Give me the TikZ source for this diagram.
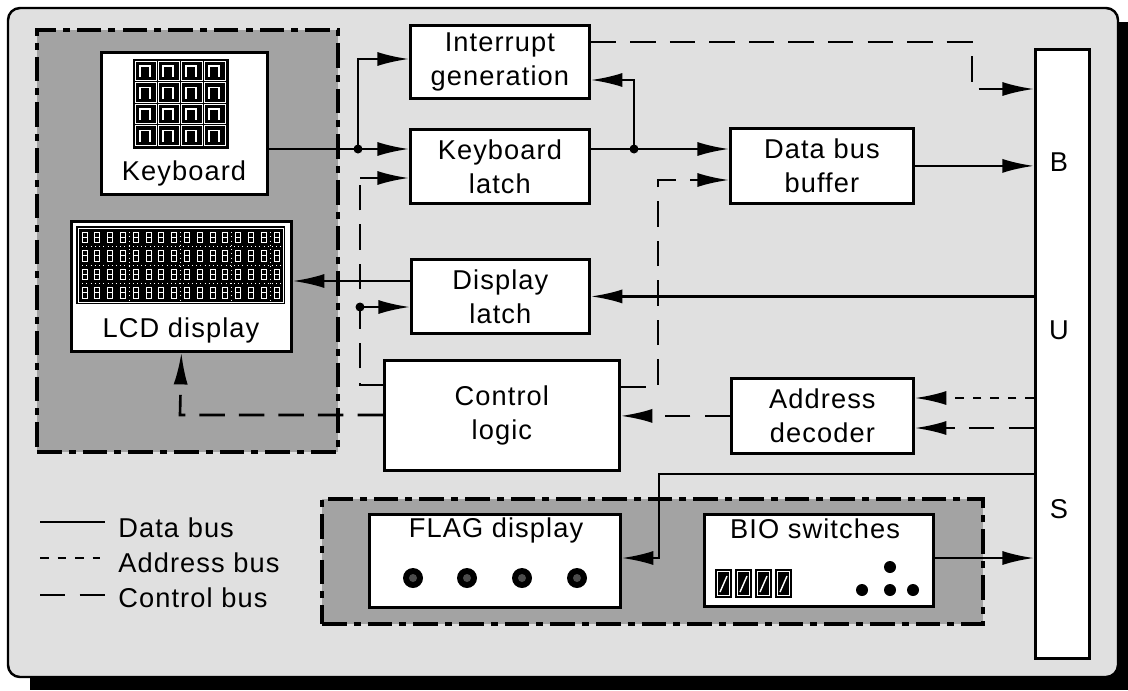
\documentclass[tikz,border=0pt]{standalone}
\usepackage{fontspec}
\setmainfont{Liberation Sans}[LetterSpace=4]
\usetikzlibrary{arrows.meta,calc}
\definecolor{bgfill}{gray}{0.88}
\definecolor{grpfill}{gray}{0.64}
\begin{document}
\begin{tikzpicture}[x=0.02cm,y=-0.02cm,
  lbl/.style={font=\fontsize{15.5}{19.5}\selectfont, align=center, inner sep=0pt},
  blk/.style={draw, line width=1.6pt, fill=white, inner sep=0pt, anchor=north west, lbl},
  grp/.style={draw, line width=2.2pt, fill=grpfill, anchor=north west, inner sep=0pt,
              dash pattern=on 14pt off 4pt on 4pt off 4pt},
  data/.style={line width=1.5pt},
  addr/.style={line width=1.5pt, dash pattern=on 5pt off 5pt},
  ctrl/.style={line width=1.5pt, dash pattern=on 14.5pt off 8pt},
  arr/.style={-{Latex[length=18pt,width=8pt]}},
  jdot/.style={fill=black},
]
\useasboundingbox (0,0) rectangle (1128,690);
% frame with shadow
\fill[black] (30,22) rectangle (1128,690);
\draw[line width=1.4pt, fill=bgfill, rounded corners=0.24cm] (8,8) rectangle (1118,677);

% groups
\node[grp, minimum width=6.02cm, minimum height=8.44cm] (g1) at (35,28) {};
\node[grp, minimum width=13.22cm, minimum height=2.5cm] (g2) at (320,497) {};

% blocks
\node[blk, minimum width=3.32cm, minimum height=2.84cm] (kbd) at (100,51) {};
\node[blk, minimum width=4.40cm, minimum height=2.60cm] (lcd) at (70,220) {};
\node[blk, minimum width=3.58cm, minimum height=1.46cm] (intr) at (409,24) {Interrupt\\generation};
\node[blk, minimum width=3.58cm, minimum height=1.48cm] (kbl) at (409,128) {Keyboard\\latch};
\node[blk, minimum width=3.56cm, minimum height=1.48cm] (dpl) at (410,258) {Display\\latch};
\node[blk, minimum width=3.66cm, minimum height=1.50cm] (dbb) at (729,127) {Data bus\\buffer};
\node[blk, minimum width=3.64cm, minimum height=1.50cm] (adr) at (730,377) {Address\\decoder};
\node[blk, minimum width=4.70cm, minimum height=2.20cm] (ctl) at (383,359) {Control\\logic};
\node[blk, minimum width=1.08cm, minimum height=12.18cm] (bus) at (1034,48) {};
\node[blk, minimum width=5.02cm, minimum height=1.86cm] (flag) at (368,513) {};
\node[blk, minimum width=4.58cm, minimum height=1.84cm] (bio) at (703,513) {};

% labels
\node[lbl] (bB) at (1059,162) {B};
\node[lbl] (bU) at (1059,330) {U};
\node[lbl] (bS) at (1059,509) {S};
\node[lbl, anchor=base] (kbdt) at (184,180) {Keyboard};
\node[lbl, anchor=base] (lcdt) at (181,337) {LCD display};
\node[lbl, anchor=base] (flagt) at (496,537) {FLAG display};
\node[lbl, anchor=base] (biot) at (815,538) {BIO switches};

% keypad icon
\fill[black] (133,59) rectangle (229,149);
\foreach \i in {0,...,3} \foreach \j in {0,...,3} {
  \draw[white, line width=0.5pt] (135+\i*23,61+\j*21.5) rectangle ++(21,19.5);
  \draw[white, line width=1pt] (140+\i*23,77+\j*21.5) -- (140+\i*23,66+\j*21.5) -- (150+\i*23,66+\j*21.5) -- (150+\i*23,77+\j*21.5);
}
% LCD icon
\fill[black] (76,226) rectangle (285,304);
\draw[white, line width=0.5pt] (78,228) rectangle (283,302);
\foreach \r in {1,2,3} \draw[white, line width=0.4pt, dotted] (78,228+\r*18.5) -- (283,228+\r*18.5);
\foreach \c in {4,8,12,15} \draw[white, line width=0.4pt, dotted] (78+\c*12.8,228) -- (78+\c*12.8,302);
\foreach \r in {0,...,3} \foreach \c in {0,...,15} {
  \draw[white, line width=0.5pt] (82+\c*12.8,232+\r*18.5) rectangle ++(5,10.5);
  \draw[white, line width=0.5pt] (82+\c*12.8,237.25+\r*18.5) -- ++(5,0);
}
% flag dots
\foreach \x in {413,467,522,577} {
  \fill (\x,578) circle[radius=0.2cm];
  \fill[black!70] (\x,578) circle[radius=0.08cm];
}
% BIO switches icon
\foreach \k in {0,...,3} {
  \fill (715+\k*20,569) rectangle ++(17,29);
  \draw[white, line width=0.5pt] (717.5+\k*20,571.5) rectangle ++(12,24);
  \draw[white, line width=0.8pt] (720+\k*20,592) -- (727+\k*20,576);
}
\fill (890,567) circle[radius=0.12cm];
\fill (862,590) circle[radius=0.12cm];
\fill (890,590) circle[radius=0.12cm];
\fill (913,590) circle[radius=0.12cm];

% coordinates
\coordinate (j1) at (358,149);
\coordinate (j1t) at (358,59);
\coordinate (j2) at (634,149);
\coordinate (j2t) at (634,80);
\coordinate (c1) at (972,42);
\coordinate (c2) at (972,89);
\coordinate (cl1) at (360,385);
\coordinate (cl2) at (360,178);
\coordinate (cl3) at (360,307);
\coordinate (cr1) at (658,387);
\coordinate (cr2) at (658,180);
\coordinate (dl) at (350,281);
\coordinate (lc1) at (180,415);
\coordinate (ad1) at (1000,398);
\coordinate (ad2) at (1000,428);
\coordinate (f1) at (659,474);
\coordinate (f2) at (659,558);

% data connectors
\draw[data] (kbd.east |- j1) -- (j1);
\draw[data,arr] (j1) -- (kbl.west |- j1);
\draw[data,arr] (j1) -- (j1t) -- (intr.west |- j1t);
\fill[jdot] (j1) circle[radius=0.09cm];
\draw[data] (kbl.east |- j2) -- (j2);
\draw[data,arr] (j2) -- (dbb.west |- j2);
\draw[data,arr] (j2) -- (j2t) -- (intr.east |- j2t);
\fill[jdot] (j2) circle[radius=0.09cm];
\draw[data,arr] (dbb.east) -- (bus.west |- dbb.east);
\draw[data,arr] (bus.west |- dpl.east) -- (dpl.east);
\draw[data,arr] (dpl.west |- dl) -- (lcd.east |- dl);
\draw[data,arr] (bus.west |- f1) -- (f1) -- (f2) -- (flag.east |- f2);
\draw[data,arr] (bio.east |- f2) -- (bus.west |- f2);

% control connectors
\draw[ctrl,arr] (intr.east |- c1) -- (c1) -- (c2) -- (bus.west |- c2);
\draw[ctrl] (ctl.west |- cl1) -- (cl1) -- (cl2);
\draw[ctrl,arr] (cl2) -- (kbl.west |- cl2);
\draw[ctrl,arr] (cl3) -- (dpl.west |- cl3);
\fill[jdot] (cl3) circle[radius=0.09cm];
\draw[ctrl,arr] (ctl.east |- cr1) -- (cr1) -- (cr2) -- (dbb.west |- cr2);
\draw[ctrl,arr] (ctl.west |- lc1) -- (lc1) -- (lcd.south);
\draw[ctrl,arr] (adr.west) -- (ctl.east |- adr.west);
\draw[ctrl,arr] (bus.west |- ad2) -- (adr.east |- ad2);
% address connector
\draw[addr,arr] (bus.west |- ad1) -- (adr.east |- ad1);

% legend
\node[lbl, anchor=base west] (lgd) at (118,537) {Data bus};
\node[lbl, anchor=base west] (lga) at (118,572) {Address bus};
\node[lbl, anchor=base west] (lgc) at (118,607) {Control bus};
\coordinate (ld1) at (40,522); \coordinate (ld2) at (105,522);
\coordinate (la1) at (40,558); \coordinate (la2) at (100,558);
\coordinate (lk1) at (40,595); \coordinate (lk2) at (106,595);
\draw[data] (ld1) -- (ld2);
\draw[addr] (la1) -- (la2);
\draw[ctrl] (lk1) -- (lk2);
\end{tikzpicture}
\end{document}
